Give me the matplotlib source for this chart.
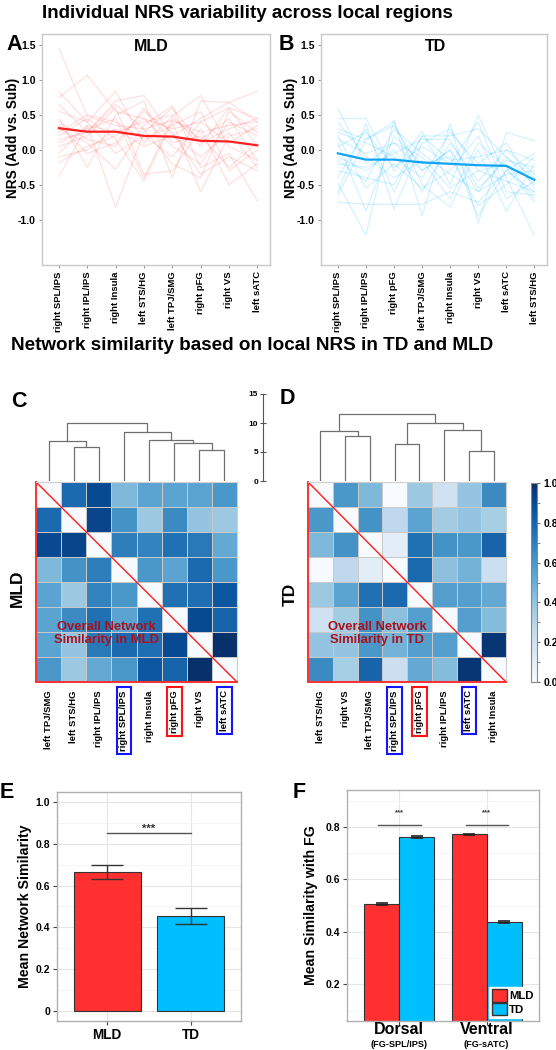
import numpy as np
import matplotlib
matplotlib.use("Agg")
import matplotlib.pyplot as plt
from matplotlib.ticker import MultipleLocator
from matplotlib.patches import Patch

plt.rcParams['font.family'] = ['Liberation Sans', 'DejaVu Sans']
plt.rcParams['font.weight'] = 'bold'
plt.rcParams['axes.labelweight'] = 'bold'

# ---- panel A / B : individual NRS lines ----
regions_mld = ["right SPL/IPS", "right IPL/IPS", "right Insula", "left STS/HG",
               "left TPJ/SMG", "right pFG", "right VS", "left sATC"]
regions_td = ["right SPL/IPS", "right IPL/IPS", "right pFG", "left TPJ/SMG",
              "right Insula", "right VS", "left sATC", "left STS/HG"]

mean_mld = [0.31, 0.26, 0.26, 0.20, 0.19, 0.13, 0.12, 0.065]
mean_td = [-0.05, -0.14, -0.14, -0.18, -0.20, -0.22, -0.23, -0.43]

subj_mld = [
    [1.45, 0.48, 0.35, 0.30, 0.42, 0.25, 0.35, 0.40],
    [0.75, 1.07, 0.55, 0.45, 0.30, 0.40, 0.60, 0.45],
    [0.83, 0.40, 0.84, 0.10, 0.48, 0.78, 0.05, -0.15],
    [0.65, 0.25, 0.70, 0.78, 0.20, 0.45, 0.68, 0.84],
    [-0.38, 0.35, -0.82, 0.25, 0.60, 0.10, 0.30, 0.45],
    [0.45, -0.25, 0.50, 0.70, -0.40, 0.70, 0.68, 0.40],
    [0.30, 0.10, -0.28, 0.35, 0.63, -0.25, -0.05, -0.73],
    [0.20, 0.45, 0.15, -0.45, 0.40, -0.60, 0.20, 0.30],
    [0.05, 0.20, 0.60, -0.35, -0.30, 0.30, -0.50, -0.20],
    [-0.18, 0.05, 0.20, 0.45, 0.05, -0.20, 0.40, 0.20],
    [0.25, 0.50, 0.40, 0.15, 0.35, 0.55, -0.30, 0.00],
    [0.35, -0.05, 0.10, 0.55, 0.25, -0.35, -0.10, -0.30],
    [0.10, 0.30, 0.45, -0.40, 0.45, 0.15, 0.45, -0.15],
    [0.55, 0.40, -0.05, 0.20, -0.10, 0.40, 0.10, 0.35],
    [-0.10, 0.00, 0.30, 0.05, 0.20, -0.10, 0.25, -0.25],
    [0.40, 0.15, 0.05, 0.60, 0.10, 0.20, -0.25, 0.10],
    [0.15, 0.25, 0.65, 0.30, -0.20, -0.40, 0.55, 0.25],
    [-0.05, 0.35, 0.25, 0.40, 0.50, 0.05, 0.60, 0.05],
]
subj_td = [
    [0.60, -0.20, 0.10, -0.30, 0.00, -0.60, -0.10, -0.50],
    [-0.75, -0.78, -0.78, -0.78, -0.60, -0.75, -0.30, -0.60],
    [0.45, 0.45, -0.30, 0.27, -0.50, 0.50, -0.40, -1.23],
    [-0.48, -1.22, 0.43, -0.95, 0.38, -1.05, 0.25, 0.13],
    [0.30, 0.15, 0.40, -0.50, -0.82, 0.00, -0.88, -0.20],
    [-0.60, 0.38, -0.85, 0.10, 0.30, -0.30, -0.20, -0.70],
    [0.10, -0.88, 0.20, -0.20, -0.10, -0.80, -0.50, -0.10],
    [-0.30, -0.40, -0.50, 0.20, 0.20, 0.30, -0.10, -0.40],
    [0.25, 0.10, -0.10, -0.40, 0.25, -0.20, 0.10, -0.55],
    [-0.15, -0.45, 0.30, -0.05, -0.35, -0.60, -0.35, -0.30],
    [0.05, 0.25, -0.25, 0.05, -0.20, 0.40, -0.60, -0.65],
    [-0.10, -0.30, 0.00, -0.60, 0.10, -0.45, 0.00, -0.15],
    [0.40, -0.10, -0.40, -0.15, -0.70, 0.10, -0.25, -0.75],
    [-0.65, 0.15, 0.35, -0.30, 0.00, -0.95, -0.30, -0.05],
    [0.20, -0.55, -0.20, -0.55, -0.30, 0.20, -0.70, -0.45],
    [-0.40, 0.30, -0.60, 0.20, -0.15, -0.10, 0.00, -0.35],
    [0.15, -0.05, 0.10, -0.10, -0.55, -0.30, -0.45, -0.60],
    [-0.20, -0.25, -0.05, 0.15, 0.15, -0.55, -0.15, -0.25],
]

# ---- panel C / D : network similarity ----
net_labels_mld = ["left TPJ/SMG", "left STS/HG", "right IPL/IPS", "right SPL/IPS",
                  "right Insula", "right pFG", "right VS", "left sATC"]
net_labels_td = ["left STS/HG", "right VS", "left TPJ/SMG", "right SPL/IPS",
                 "right pFG", "right IPL/IPS", "left sATC", "right Insula"]

sim_mld = [
    [0.00, 0.78, 0.90, 0.45, 0.55, 0.55, 0.55, 0.60],
    [0.78, 0.00, 0.92, 0.62, 0.38, 0.65, 0.40, 0.38],
    [0.90, 0.92, 0.00, 0.70, 0.68, 0.75, 0.72, 0.52],
    [0.45, 0.62, 0.70, 0.00, 0.60, 0.55, 0.78, 0.60],
    [0.55, 0.38, 0.68, 0.60, 0.00, 0.75, 0.76, 0.85],
    [0.55, 0.65, 0.75, 0.55, 0.75, 0.00, 0.90, 0.80],
    [0.55, 0.40, 0.72, 0.78, 0.76, 0.90, 0.00, 1.00],
    [0.60, 0.38, 0.52, 0.60, 0.85, 0.80, 1.00, 0.00],
]
sim_td = [
    [0.00, 0.60, 0.45, 0.00, 0.38, 0.20, 0.40, 0.65],
    [0.60, 0.00, 0.62, 0.27, 0.55, 0.36, 0.40, 0.35],
    [0.45, 0.62, 0.00, 0.10, 0.75, 0.62, 0.60, 0.80],
    [0.00, 0.27, 0.10, 0.00, 0.78, 0.42, 0.48, 0.22],
    [0.38, 0.55, 0.75, 0.78, 0.00, 0.57, 0.57, 0.52],
    [0.20, 0.36, 0.62, 0.42, 0.57, 0.00, 0.57, 0.44],
    [0.40, 0.40, 0.60, 0.48, 0.57, 0.57, 0.00, 0.98],
    [0.65, 0.35, 0.80, 0.22, 0.52, 0.44, 0.98, 0.00],
]

# dendrogram merges: (left, right, height); new clusters numbered from 8
merges_mld = [(1, 2, 5.8), (0, 8, 6.9), (6, 7, 5.35), (5, 10, 6.6),
              (4, 11, 7.0), (3, 12, 8.4), (9, 13, 10.0)]
merges_td = [(1, 2, 7.7), (0, 8, 8.7), (3, 4, 6.4), (6, 7, 5.2),
             (5, 11, 8.8), (10, 12, 10.0), (9, 13, 11.5)]

boxed = {"right SPL/IPS": "#1414ff", "right pFG": "#ff1414", "left sATC": "#1414ff"}

# ---- panel E / F ----
groups = ["MLD", "TD"]
mean_sim = [0.665, 0.455]
mean_sim_err = [0.033, 0.040]

pathways = ["Dorsal", "Ventral"]
pathway_sub = ["(FG-SPL/IPS)", "(FG-sATC)"]
fg_mld = [0.507, 0.771]
fg_td = [0.761, 0.437]
fg_err_mld = [0.004, 0.002]
fg_err_td = [0.002, 0.003]

RED = "#ff3030"
BLUE = "#00bfff"

W, H = 556, 1050
fig = plt.figure(figsize=(W / 100, H / 100), dpi=100)


def box(x0, y0, x1, y1):
    return fig.add_axes([x0 / W, 1 - y1 / H, (x1 - x0) / W, (y1 - y0) / H])


def nrs_panel(ax, regions, subjects, mean, thin, alpha, thick, title, tx, lx):
    x = np.arange(len(regions))
    for s in subjects:
        ax.plot(x, s, color=thin, alpha=alpha, lw=0.9)
    ax.plot(x, mean, color=thick, lw=1.6)
    ax.set_xlim(-0.6, 7.45)
    ax.set_ylim(-1.65, 1.66)
    yt = [1.5, 1.0, 0.5, 0.0, -0.5, -1.0]
    ax.set_yticks(yt)
    ax.set_yticklabels(["%.1f" % v for v in yt], fontsize=7.5, fontweight="bold")
    ax.set_xticks(x)
    ax.set_xticklabels(regions, rotation=90, fontsize=6.8, fontweight="bold")
    for sp in ax.spines.values():
        sp.set_color("#c8c8c8")
        sp.set_linewidth(1.0)
    ax.tick_params(length=2.5, color="#999999", pad=2)
    ax.set_ylabel("NRS (Add vs. Sub)", fontsize=9.8)
    ax.yaxis.set_label_coords(lx, 0.55)
    ax.text(tx, 0.945, title, transform=ax.transAxes, ha="center", va="center",
            fontsize=11.5)


def draw_dendro(ax, merges, n):
    pos = {i: i + 0.5 for i in range(n)}
    hgt = {i: 0.0 for i in range(n)}
    for k, (a, b, h) in enumerate(merges):
        ax.plot([pos[a], pos[a], pos[b], pos[b]], [hgt[a], h, h, hgt[b]],
                color="#707070", lw=0.9)
        pos[n + k] = (pos[a] + pos[b]) / 2
        hgt[n + k] = h
    ax.set_xlim(0, n)
    ax.set_ylim(0, 15)
    ax.axis("off")


cmap = plt.get_cmap("Blues")


def heat(ax, M, labels, note):
    mesh = ax.pcolormesh(np.array(M), cmap=cmap, vmin=0, vmax=1,
                         edgecolors="#c9c9c9", linewidth=0.6)
    ax.set_xlim(0, 8)
    ax.set_ylim(8, 0)
    ax.plot([0, 8], [0, 8], color="#ff1a1a", lw=1.0)
    for sp in ["top", "right"]:
        ax.spines[sp].set_color("#d0d0d0")
    for sp in ["left", "bottom"]:
        ax.spines[sp].set_color("#ff3030")
        ax.spines[sp].set_linewidth(1.4)
    ax.set_yticks([])
    ax.set_xticks(np.arange(8) + 0.5)
    ax.set_xticklabels(labels, rotation=90, fontsize=6.8, va="top", fontweight="bold")
    ax.tick_params(axis="x", length=0, pad=6)
    for lab in ax.get_xticklabels():
        if lab.get_text() in boxed:
            lab.set_bbox(dict(boxstyle="square,pad=0.3", fc="none",
                              ec=boxed[lab.get_text()], lw=1.5))
    ax.text(2.8, 6.05, note, color="#a8101c", fontsize=9.4, ha="center",
            va="center", linespacing=1.15)
    return mesh


def ggplot_style(ax):
    ax.set_facecolor("white")
    ax.grid(True, which="major", color="#e6e6e6", lw=0.8)
    ax.grid(True, which="minor", axis="y", color="#f2f2f2", lw=0.5)
    ax.set_axisbelow(True)
    for sp in ax.spines.values():
        sp.set_color("#b0b0b0")
        sp.set_linewidth(1.0)
    ax.tick_params(which="major", length=3, color="#444444", labelsize=7.5, pad=2)
    ax.tick_params(which="minor", length=0)


# titles
fig.text(247 / W, 1 - 13 / H, "Individual NRS variability across local regions",
         ha="center", va="center", fontsize=13.5)
fig.text(252 / W, 1 - 346 / H, "Network similarity based on local NRS in TD and MLD",
         ha="center", va="center", fontsize=13.6)

# panel letters
for letter, px, py in [("A", 14, 45), ("B", 286, 45), ("C", 19, 401),
                       ("D", 287, 399), ("E", 7, 793), ("F", 299, 793)]:
    fig.text(px / W, 1 - py / H, letter, ha="center", va="center", fontsize=15.5)

# A, B
axA = box(42, 34, 270, 265)
nrs_panel(axA, regions_mld, subj_mld, mean_mld, "#ff4040", 0.16, "#ff2020",
          "MLD", 0.48, -0.097)
axB = box(321, 34, 547, 265)
nrs_panel(axB, regions_td, subj_td, mean_td, "#00b4ff", 0.17, "#12a4f4",
          "TD", 0.505, -0.1)

# C, D
axC = box(36, 482, 237, 682)
mesh = heat(axC, sim_mld, net_labels_mld, "Overall Network\nSimilarity in MLD")
axC.set_ylabel("MLD", fontsize=12.5)
axC.yaxis.set_label_coords(-0.055, 0.47)
dC = box(36, 394, 237, 481)
draw_dendro(dC, merges_mld, 8)

axD = box(308, 482, 506, 682)
heat(axD, sim_td, net_labels_td, "Overall Network\nSimilarity in TD")
axD.set_ylabel("TD", fontsize=12.5)
axD.yaxis.set_label_coords(-0.05, 0.44)
dD = box(308, 394, 506, 481)
draw_dendro(dD, merges_td, 8)

# dendrogram height scale
sax = box(263, 394, 264, 481)
sax.set_ylim(0, 15)
sax.set_xticks([])
sax.set_yticks([0, 5, 10, 15])
for sp in ["top", "right", "bottom"]:
    sax.spines[sp].set_visible(False)
sax.spines["left"].set_color("#555555")
sax.tick_params(axis="y", direction="inout", length=5, color="#555555",
                labelsize=6, pad=1)
sax.patch.set_alpha(0)

# colorbar
cax = box(531, 483, 537, 682)
cb = fig.colorbar(mesh, cax=cax, ticks=[0, 0.2, 0.4, 0.6, 0.8, 1.0])
cb.ax.set_yticklabels(["%.1f" % t for t in [0, 0.2, 0.4, 0.6, 0.8, 1.0]])
cb.ax.yaxis.set_minor_locator(MultipleLocator(0.1))
cb.ax.tick_params(which="both", labelsize=7.5, color="#666666", length=2.5, pad=2)
cb.outline.set_edgecolor("#888888")
cb.outline.set_linewidth(0.8)

# E
axE = box(57, 792, 241, 1021)
ggplot_style(axE)
xe = np.arange(1, len(groups) + 1)
axE.bar(xe, mean_sim, width=0.8, color=[RED, BLUE], edgecolor="#333333", lw=0.8)
axE.errorbar(xe, mean_sim, yerr=mean_sim_err, fmt="none", ecolor="#333333",
             elinewidth=1.0, capsize=11.5, capthick=1.0)
axE.plot([1, 2], [0.852, 0.852], color="#555555", lw=1.0)
axE.text(1.5, 0.875, "***", ha="center", va="center", fontsize=8, color="#333333")
axE.set_xlim(0.4, 2.6)
axE.set_ylim(-0.05, 1.05)
axE.set_xticks(xe)
axE.set_xticklabels(groups, fontsize=9.8)
axE.set_yticks([0, 0.2, 0.4, 0.6, 0.8, 1.0])
axE.set_yticklabels(["0", "0.2", "0.4", "0.6", "0.8", "1.0"])
axE.yaxis.set_minor_locator(MultipleLocator(0.1))
axE.tick_params(axis="x", labelsize=9.8)
axE.set_ylabel("Mean Network Similarity", fontsize=10.2)
axE.yaxis.set_label_coords(-0.135, 0.5)

# F
axF = box(347, 790, 539, 1021)
ggplot_style(axF)
xf = np.arange(1, len(pathways) + 1)
axF.bar(xf - 0.2, fg_mld, width=0.4, color=RED, edgecolor="#333333", lw=0.8)
axF.bar(xf + 0.2, fg_td, width=0.4, color=BLUE, edgecolor="#333333", lw=0.8)
axF.errorbar(xf - 0.2, fg_mld, yerr=fg_err_mld, fmt="none", ecolor="#222222",
             elinewidth=1.0, capsize=4, capthick=1.2)
axF.errorbar(xf + 0.2, fg_td, yerr=fg_err_td, fmt="none", ecolor="#222222",
             elinewidth=1.0, capsize=4, capthick=1.2)
for x in xf:
    axF.plot([x - 0.24, x + 0.25], [0.806, 0.806], color="#555555", lw=1.0)
    axF.text(x, 0.853, "***", ha="center", va="center", fontsize=5.5, color="#333333")
axF.set_xlim(0.4, 2.6)
axF.set_ylim(0.06, 0.94)
axF.set_xticks(xf)
axF.set_xticklabels([])
axF.set_yticks([0.2, 0.4, 0.6, 0.8])
axF.yaxis.set_minor_locator(MultipleLocator(0.1))
trans = axF.get_xaxis_transform()
for x, main, sub in zip(xf, pathways, pathway_sub):
    axF.text(x, -0.038, main, transform=trans, ha="center", va="center", fontsize=11.5)
    axF.text(x, -0.1, sub, transform=trans, ha="center", va="center", fontsize=6.6)
axF.set_ylabel("Mean Similarity with FG", fontsize=10.2)
axF.yaxis.set_label_coords(-0.15, 0.5)
leg = axF.legend(handles=[Patch(fc=RED, ec="#333333", label="MLD"),
                          Patch(fc=BLUE, ec="#333333", label="TD")],
                 loc="lower right", fontsize=8.2, frameon=True, fancybox=False,
                 handlelength=1.3, handleheight=1.3, handletextpad=0.2,
                 borderpad=0.2, labelspacing=0.1, borderaxespad=0.3)
leg.get_frame().set_edgecolor("white")
leg.get_frame().set_alpha(1)

fig.savefig("out.png", dpi=100)
